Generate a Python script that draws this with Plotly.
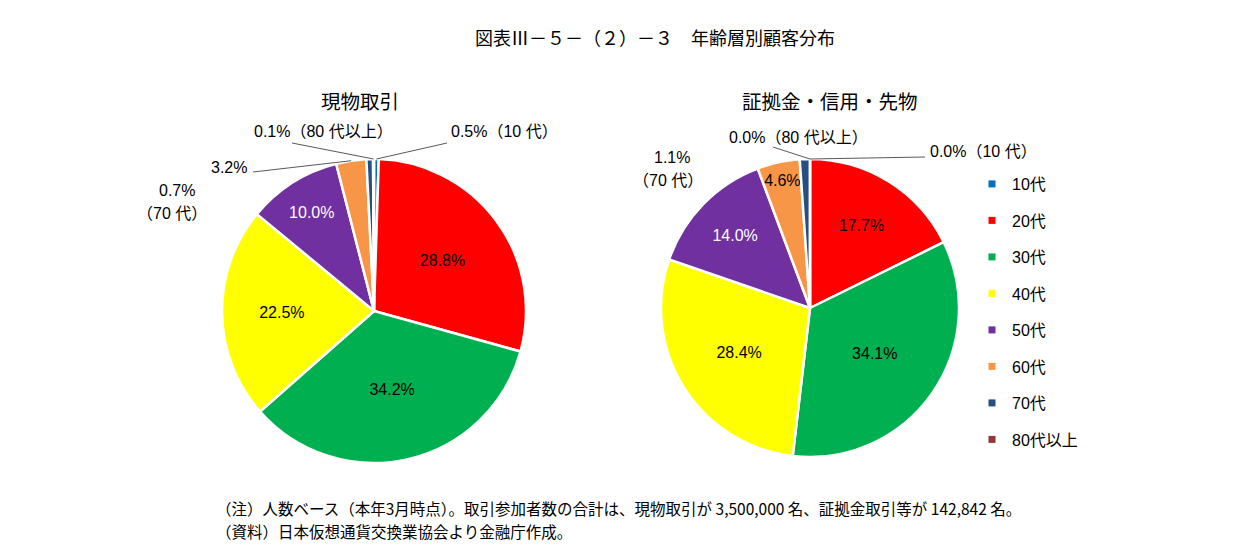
import math
import plotly.graph_objects as go

W, H = 1240, 553
FONT = "Liberation Sans, Noto Sans CJK JP, sans-serif"

labels = ["10代", "20代", "30代", "40代", "50代", "60代", "70代", "80代以上"]
colors = ["#0070C0", "#FF0000", "#00B050", "#FFFF00", "#7030A0", "#F79646", "#254E82", "#953735"]
spot_share = [0.5, 28.8, 34.2, 22.5, 10.0, 3.2, 0.7, 0.1]      # 現物取引
margin_share = [0.0, 17.7, 34.1, 28.4, 14.0, 4.6, 1.1, 0.0]    # 証拠金・信用・先物

title = "図表Ⅲ－５－（２）－３　年齢層別顧客分布"
pie_titles = ["現物取引", "証拠金・信用・先物"]
notes = [
    "（注）人数ベース（本年3月時点）。取引参加者数の合計は、現物取引が 3,500,000 名、証拠金取引等が 142,842 名。",
    "（資料）日本仮想通貨交換業協会より金融庁作成。",
]

# pie geometry in pixels: centre x, centre y, radius
left_geo = (374, 311, 152)
right_geo = (810, 308, 149)


def px(x, y):
    return x / W, 1 - y / H


def domain(geo):
    cx, cy, r = geo
    return dict(x=[(cx - r) / W, (cx + r) / W], y=[1 - (cy + r) / H, 1 - (cy - r) / H])


def edge(vals, i, geo):
    # point on the rim at the middle of slice i (clockwise from 12 o'clock)
    cx, cy, r = geo
    a = (sum(vals[:i]) + vals[i] / 2) / sum(vals) * 2 * math.pi
    return cx + r * math.sin(a), cy - r * math.cos(a)


def pie(vals, geo, inside):
    return go.Pie(
        labels=labels, values=vals, sort=False, direction="clockwise",
        domain=domain(geo), showlegend=False, hole=0,
        marker=dict(colors=colors, line=dict(color="white", width=2.5)),
        texttemplate=["%{value:.1f}%" if i in inside else "" for i in range(len(vals))],
        textposition=["inside" if i in inside else "none" for i in range(len(vals))],
        insidetextorientation="horizontal",
        insidetextfont=dict(family=FONT, size=16,
                            color=["white" if i == 4 else "black" for i in range(len(vals))]),
        hoverinfo="label+value",
    )


fig = go.Figure()
fig.add_trace(pie(spot_share, left_geo, {1, 2, 3, 4}))
fig.add_trace(pie(margin_share, right_geo, {1, 2, 3, 4, 5}))

# legend entries (one per age group, spaced like the original)
for lab, col in zip(labels, colors):
    fig.add_trace(go.Scatter(
        x=[None], y=[None], mode="markers", name=lab, legendgroup=lab,
        marker=dict(symbol="square", size=7, color=col),
    ))

annotations = []
shapes = []


def label(text, x, y, anchor="center"):
    ax, ay = px(x, y)
    annotations.append(dict(text=text, x=ax, y=ay, xref="paper", yref="paper",
                            xanchor=anchor, yanchor="middle", showarrow=False,
                            font=dict(family=FONT, size=16, color="black")))


def leader(vals, i, geo, x, y):
    ex, ey = edge(vals, i, geo)
    x0, y0 = px(ex, ey)
    x1, y1 = px(x, y)
    shapes.append(dict(type="line", xref="paper", yref="paper", x0=x0, y0=y0, x1=x1, y1=y1,
                       line=dict(color="#595959", width=1)))


# outside labels, left pie
label(f"{spot_share[0]:.1f}%（10 代）", 449, 131, "left")
leader(spot_share, 0, left_geo, 447, 143)
label(f"{spot_share[7]:.1f}%（80 代以上）", 252, 131, "left")
leader(spot_share, 7, left_geo, 292, 143)
label(f"{spot_share[5]:.1f}%", 249, 167, "right")
leader(spot_share, 5, left_geo, 253, 172)
label(f"{spot_share[6]:.1f}%", 177, 190)
label("（70 代）", 172, 214)

# outside labels, right pie
label(f"{margin_share[7]:.1f}%（80 代以上）", 727, 137, "left")
leader(margin_share, 7, right_geo, 773, 147)
label(f"{margin_share[0]:.1f}%（10 代）", 928, 151, "left")
leader(margin_share, 0, right_geo, 925, 157)
label(f"{margin_share[6]:.1f}%", 672, 157)
label("（70 代）", 668, 180)

# titles
tx, ty = px(655, 37)
annotations.append(dict(text=title, x=tx, y=ty, xref="paper", yref="paper", showarrow=False,
                        xanchor="center", yanchor="middle",
                        font=dict(family="Noto Sans CJK JP", size=18, color="black")))
for t, cx in zip(pie_titles, [360, 830]):
    x, y = px(cx, 100)
    annotations.append(dict(text=t, x=x, y=y, xref="paper", yref="paper", showarrow=False,
                            xanchor="center", yanchor="middle",
                            font=dict(family="Noto Sans CJK JP", size=19.5, color="black")))
for t, yy in zip(notes, [508, 531]):
    x, y = px(214, yy)
    annotations.append(dict(text=t, x=x, y=y, xref="paper", yref="paper", showarrow=False,
                            xanchor="left", yanchor="middle",
                            font=dict(family="Noto Sans CJK JP", size=15.5, color="black")))

lx, ly = px(972, 167)
fig.update_layout(
    width=W, height=H,
    margin=dict(l=0, r=0, t=0, b=0),
    paper_bgcolor="white", plot_bgcolor="white",
    xaxis=dict(visible=False), yaxis=dict(visible=False),
    legend=dict(x=lx, y=ly, xanchor="left", yanchor="top", traceorder="grouped",
                tracegroupgap=12.7, itemwidth=30,
                font=dict(family=FONT, size=16, color="black")),
    uniformtext=dict(minsize=16, mode="show"),
    annotations=annotations,
    shapes=shapes,
)

fig.write_html("out.html", config={"displayModeBar": False},
               post_script="document.body.style.margin = '0px';")
